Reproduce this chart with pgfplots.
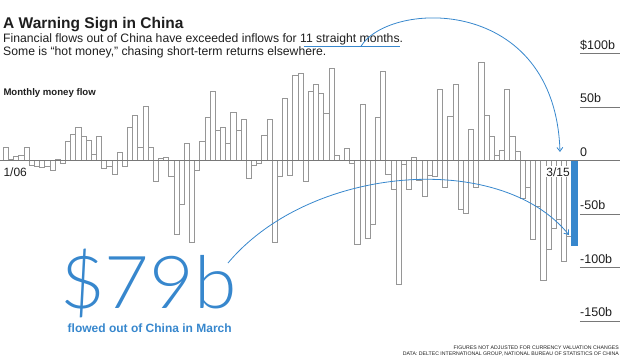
\documentclass[border=0pt]{standalone}
\usepackage{pgfplots}
\pgfplotsset{compat=1.18}
\usepackage{pgfplotstable}
\usetikzlibrary{arrows.meta}
\usepackage{fontspec}
\setmainfont{Liberation Sans}
\newfontfamily\lightfont[FakeStretch=1.055]{Lato Light}
\definecolor{bblue}{RGB}{55,135,205}
\definecolor{barline}{RGB}{150,150,150}
\definecolor{zeroline}{RGB}{120,120,120}
\definecolor{txt}{RGB}{30,30,30}

\pgfplotstableread{
x y
0 12.5
1 1.5
2 4.4
3 5.3
4 12.5
5 -4.4
6 -5.6
7 -6.2
8 -5
9 -8.7
10 1.2
11 -2.5
12 17.8
13 24.3
14 31.5
15 23
16 18.7
17 5.9
18 23
19 -7
20 -5
21 -13
22 7.8
23 -5
24 31
25 42.4
26 12.5
27 50.5
28 12.5
29 -19.3
30 2
31 3.2
32 -14.8
33 -69
34 -41.2
35 16.3
36 -76.6
37 -8.7
38 18
39 40.4
40 65
41 28.8
42 31
43 16.3
44 45
45 28.5
46 38.5
47 -16.8
48 -4.2
49 -2.4
50 23.3
51 38.6
52 -76.4
53 -14.7
54 58
55 -13.7
56 79.5
57 82
58 -19.3
59 64.5
60 71.1
61 62.7
62 44.2
63 86.5
64 4.7
65 0.5
66 11.6
67 -2.9
68 -78.2
69 52.6
70 -72.9
71 -59
72 40.5
73 84
74 -12.7
75 -27.1
76 -115.9
77 -3.3
78 -26.4
79 3.2
80 -18.3
81 -33.2
82 -13.5
83 -14.6
84 66.4
85 -24.8
86 41.8
87 71.5
88 -45.2
89 -48.9
90 29.4
91 -25.3
92 91.9
93 42.4
94 22.7
95 4.7
96 9.7
97 66.4
98 22.7
99 8.7
100 -34.9
101 -24.6
102 -73.2
103 -42.7
104 -112
105 -82.6
106 -62.9
107 -54.5
108 -94
109 -70.7
}\flows

\begin{document}
\begin{tikzpicture}
\begin{axis}[at={(0pt,0pt)}, anchor=south west, scale only axis,
  width=620pt, height=357pt,
  xmin=-1.138, xmax=118.85, ymin=-183.5, ymax=150.2,
  axis lines=none, ticks=none, clip=false]
\addplot[ybar, bar width=1, bar shift=0pt, draw=barline, fill=white, line width=0.6pt] table {\flows};
\addplot[ybar, bar width=1, bar shift=0pt, draw=bblue, fill=bblue, line width=0.4pt] coordinates {(110,-79)};
\draw[zeroline, line width=0.6pt] (axis cs:-1.138,0) -- (axis cs:118.85,0);
\draw[zeroline, line width=0.6pt] (axis cs:111.1,100) -- (axis cs:118.85,100);
\draw[zeroline, line width=0.6pt] (axis cs:111.1,50) -- (axis cs:118.85,50);
\draw[zeroline, line width=0.6pt] (axis cs:111.1,-50) -- (axis cs:118.85,-50);
\draw[zeroline, line width=0.6pt] (axis cs:111.1,-100) -- (axis cs:118.85,-100);
\draw[zeroline, line width=0.6pt] (axis cs:111.1,-150) -- (axis cs:118.85,-150);
\end{axis}

\begin{scope}[x=1pt, y=-1pt, shift={(0pt,357pt)}]
% titles
\node[anchor=base west, inner sep=0pt, text=txt, font=\bfseries\fontsize{15.5}{18}\selectfont] at (3,28.5) {A Warning Sign in China};
\node[anchor=base west, inner sep=0pt, text=txt, font=\fontsize{12.2}{14}\selectfont] at (3,42.3) {Financial flows out of China have exceeded inflows for 11 straight months.};
\node[anchor=base west, inner sep=0pt, text=txt, font=\fontsize{12.2}{14}\selectfont] at (3,55.7) {Some is “hot money,” chasing short-term returns elsewhere.};
\draw[bblue, line width=0.8pt] (303.6,46.2) -- (400,46.2);
\node[anchor=base west, inner sep=0pt, text=txt, font=\bfseries\fontsize{9.6}{11}\selectfont] at (3.3,95.5) {Monthly money flow};
% x labels
\node[anchor=base west, inner sep=0pt, text=txt, font=\fontsize{12}{14}\selectfont] at (3.3,176) {1/06};
\node[anchor=base east, inner sep=1pt, fill=white, text=txt, font=\fontsize{12}{14}\selectfont] at (571,176) {3/15};
% y labels
\node[anchor=base west, inner sep=0pt, text=txt, font=\fontsize{12.5}{14}\selectfont] at (580,49.2) {\$100b};
\node[anchor=base west, inner sep=0pt, text=txt, font=\fontsize{12.5}{14}\selectfont] at (580,102.7) {50b};
\node[anchor=base west, inner sep=0pt, text=txt, font=\fontsize{12.5}{14}\selectfont] at (580,156.2) {0};
\node[anchor=base west, inner sep=0pt, text=txt, font=\fontsize{12.5}{14}\selectfont] at (580,209.7) {-50b};
\node[anchor=base west, inner sep=0pt, text=txt, font=\fontsize{12.5}{14}\selectfont] at (580,263.2) {-100b};
\node[anchor=base west, inner sep=0pt, text=txt, font=\fontsize{12.5}{14}\selectfont] at (580,316.7) {-150b};
% big number
\node[anchor=base west, inner sep=0pt, text=bblue, font=\lightfont\fontsize{73}{80}\selectfont] at (60,308.3) {\$79b};
\node[anchor=base west, inner sep=0pt, text=bblue, font=\bfseries\fontsize{12}{14}\selectfont] at (67.5,332.3) {flowed out of China in March};
% footnotes
\node[anchor=base east, inner sep=0pt, text=txt, font=\fontsize{5.2}{6}\selectfont] at (619,349.5) {FIGURES NOT ADJUSTED FOR CURRENCY VALUATION CHANGES};
\node[anchor=base east, inner sep=0pt, text=txt, font=\fontsize{5.2}{6}\selectfont] at (619,355.3) {DATA: DELTEC INTERNATIONAL GROUP, NATIONAL BUREAU OF STATISTICS OF CHINA};
% arrows
\draw[bblue, line width=0.8pt, -{Straight Barb[length=4pt,width=6pt]}] (361,46.2) .. controls (390,0) and (555,-5) .. (560,152);
\draw[bblue, line width=0.8pt, -{Straight Barb[length=4pt,width=6pt]}] (228,263) .. controls (310,165) and (500,150) .. (569,235);
\end{scope}
\pgfresetboundingbox
\path[use as bounding box] (0pt,0pt) rectangle (620pt,357pt);
\end{tikzpicture}
\end{document}
